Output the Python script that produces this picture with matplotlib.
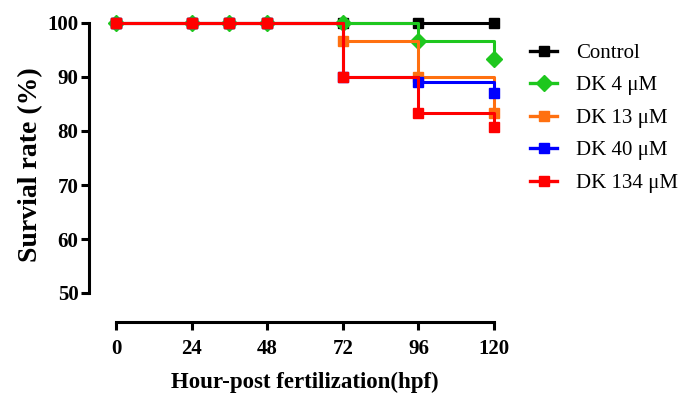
import matplotlib
matplotlib.use("Agg")
import matplotlib.pyplot as plt

times = [0, 24, 36, 48, 72, 96, 120]
control = [100, 100, 100, 100, 100, 100, 100]
dk4 = [100, 100, 100, 100, 100, 96.7, 93.3]
dk13 = [100, 100, 100, 100, 96.7, 90.0, 83.3]
dk40 = [100, 100, 100, 100, 90.0, 89.0, 87.0]
dk134 = [100, 100, 100, 100, 90.0, 83.3, 80.7]

labels = ["Control", "DK 4 \u03bcM", "DK 13 \u03bcM", "DK 40 \u03bcM", "DK 134 \u03bcM"]
series = [control, dk4, dk13, dk40, dk134]
colors = ["#000000", "#1ec71e", "#ff7010", "#0000ff", "#ff0000"]
markers = ["s", "D", "s", "s", "s"]
msizes = [7.5, 8.5, 7.5, 7.5, 7.5]

xticks = [0, 24, 48, 72, 96, 120]
yticks = [50, 60, 70, 80, 90, 100]

plt.rcParams['font.family'] = ['Liberation Serif', 'DejaVu Serif']

fig = plt.figure(figsize=(6.83, 3.94), dpi=100)
ax = fig.add_axes([89/683, 1-322/394, (494-89)/683, (322-20)/394])

px_x = (494-116)/120.0
px_y = (293-23)/50.0
ax.set_xlim(-27/px_x, 120)
ax.set_ylim(50 - 29/px_y, 100 + 3/px_y)

handles = []
for ys, c, m, ms, lab in zip(series, colors, markers, msizes, labels):
    ax.step(times, ys, where='post', color=c, lw=2.2, clip_on=False, zorder=3)
    ax.plot(times, ys, ls='none', marker=m, color=c, ms=ms, clip_on=False, zorder=3)
    h, = ax.plot([], [], color=c, lw=2.4, marker=m, ms=ms, label=lab)
    handles.append(h)

for s in ['top', 'right']:
    ax.spines[s].set_visible(False)
ax.spines['left'].set_bounds(50, 100)
ax.spines['bottom'].set_bounds(0, 120)
for s in ['left', 'bottom']:
    ax.spines[s].set_linewidth(2.2)

ax.set_xticks(xticks)
ax.set_yticks(yticks)
ax.tick_params(width=2.2, length=6, labelsize=15)
ax.tick_params(axis='y', pad=1.5)
ax.tick_params(axis='x', pad=6)
for t in ax.get_xticklabels() + ax.get_yticklabels():
    t.set_fontweight('bold')

ax.set_ylabel("Survial rate (%)", fontsize=20, fontweight='bold')
ax.yaxis.set_label_coords((43-89)/405, (322-165)/302)
ax.set_xlabel("Hour-post fertilization(hpf)", fontsize=16.5, fontweight='bold')
ax.xaxis.set_label_coords((305-89)/405, (322-372)/302)

fig.legend(handles=handles, labels=labels, loc='upper left',
           bbox_to_anchor=(522/683, 1-35/394), frameon=False, fontsize=15,
           handlelength=1.3, labelspacing=0.62, handletextpad=0.9, borderaxespad=0)

fig.savefig("out.png", dpi=100)
